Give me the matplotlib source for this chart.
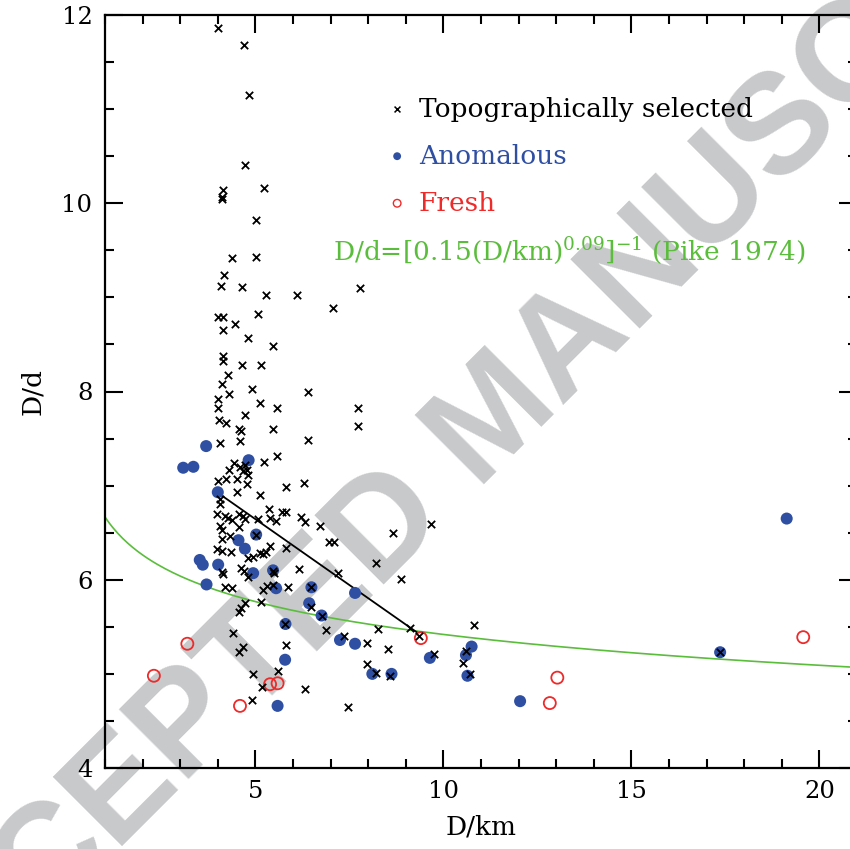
import numpy as np
import matplotlib
matplotlib.use("Agg")
import matplotlib.pyplot as plt
from matplotlib.ticker import MultipleLocator

plt.rcParams['font.family'] = ['DejaVu Serif']
plt.rcParams['mathtext.fontset'] = 'dejavuserif'

# topographically selected craters (D in km, D/d)
topo_D = [4.01, 4.71, 4.83, 4.72, 4.13, 4.12, 4.12, 5.22, 5.02, 4.37, 5.02, 4.16, 4.08, 4.64, 7.78, 5.27, 6.10,
          7.07, 4.01, 4.13, 5.08, 4.47, 4.14, 4.79, 5.47, 4.14, 4.14, 4.64, 5.15, 4.27, 4.12, 4.29, 4.92, 6.40,
          4.01, 5.13, 5.57, 7.73, 4.01, 4.72, 4.02, 4.22, 7.73, 4.56, 4.62, 5.48, 4.07, 4.60, 6.40,
          5.58, 5.24, 4.43, 4.31, 4.59, 4.66, 4.72, 4.81, 4.77, 4.00, 4.21, 4.50, 4.78, 5.82, 6.29, 4.50, 5.13,
          4.06, 4.06, 3.99, 4.19, 4.28, 4.37, 4.57, 4.66, 4.72, 5.08, 5.37, 5.39, 5.70, 5.81, 5.56, 6.21, 6.31,
          6.73, 4.06, 4.10, 4.57, 4.10, 4.32, 5.02, 3.99, 4.10, 4.34, 5.12, 5.28, 5.39, 5.81, 6.96, 7.10, 4.79,
          4.94, 5.21, 4.10, 4.15, 4.63, 4.70, 4.81, 5.47, 5.50, 6.17, 7.20,
          4.19, 4.37, 5.21, 5.30, 5.48, 5.87, 6.49, 4.72, 4.63, 4.57, 5.14, 6.49, 6.76, 6.89, 5.80, 7.36, 4.41,
          4.68, 4.57, 5.81, 4.94, 5.61, 5.18, 6.32, 4.90, 7.47,
          9.67, 8.67, 8.20, 8.87, 8.27, 9.12, 9.35, 10.82, 7.96, 8.52, 7.96, 8.22, 8.58, 9.76, 10.59, 10.53,
          10.71, 17.36]
topo_Dd = [11.86, 11.68, 11.15, 10.41, 10.14, 10.07, 10.04, 10.16, 9.82, 9.42, 9.43, 9.24, 9.12, 9.11, 9.10, 9.02, 9.03,
           8.89, 8.79, 8.79, 8.82, 8.72, 8.65, 8.57, 8.48, 8.38, 8.32, 8.28, 8.28, 8.18, 8.08, 7.97, 8.03, 8.00,
           7.92, 7.88, 7.82, 7.82, 7.82, 7.75, 7.70, 7.67, 7.63, 7.60, 7.58, 7.60, 7.45, 7.47, 7.49,
           7.31, 7.25, 7.24, 7.17, 7.20, 7.16, 7.22, 7.11, 7.17, 7.05, 7.07, 7.07, 7.02, 6.99, 7.03, 6.93, 6.90,
           6.86, 6.81, 6.70, 6.68, 6.66, 6.64, 6.70, 6.68, 6.65, 6.65, 6.75, 6.66, 6.72, 6.72, 6.62, 6.67, 6.61,
           6.57, 6.57, 6.53, 6.56, 6.43, 6.46, 6.48, 6.33, 6.31, 6.30, 6.28, 6.29, 6.36, 6.34, 6.40, 6.40, 6.23,
           6.24, 6.27, 6.08, 6.06, 6.13, 6.09, 6.03, 6.09, 6.07, 6.11, 6.07,
           5.92, 5.91, 5.89, 5.93, 5.94, 5.92, 5.92, 5.75, 5.70, 5.66, 5.76, 5.71, 5.62, 5.47, 5.53, 5.40, 5.43,
           5.29, 5.23, 5.31, 5.00, 5.03, 4.86, 4.84, 4.72, 4.65,
           6.59, 6.50, 6.18, 6.01, 5.48, 5.49, 5.40, 5.52, 5.33, 5.26, 5.10, 5.01, 4.98, 5.21, 5.24, 5.12,
           5.00, 5.23]

# anomalous craters
anom_D = [3.69, 3.08, 3.35, 4.82, 4.00, 4.55, 5.02, 4.72, 3.52, 3.60, 4.01, 4.94, 5.47, 3.70, 5.55, 6.49, 7.65,
          6.43, 6.76, 5.80, 7.25, 7.65, 5.79, 5.59, 8.11, 8.62, 9.64, 10.75, 10.60, 10.64, 12.04, 17.36, 19.13]
anom_Dd = [7.42, 7.19, 7.20, 7.27, 6.93, 6.42, 6.48, 6.33, 6.21, 6.16, 6.16, 6.07, 6.10, 5.95, 5.91, 5.92, 5.86,
           5.75, 5.62, 5.53, 5.36, 5.32, 5.15, 4.66, 5.00, 5.00, 5.17, 5.29, 5.20, 4.98, 4.71, 5.23, 6.65]

# fresh craters
fresh_D = [2.30, 3.19, 4.59, 5.39, 5.59, 9.40, 13.03, 12.83, 19.57]
fresh_Dd = [4.98, 5.32, 4.66, 4.89, 4.90, 5.38, 4.96, 4.69, 5.39]

# trend segment
trend_D = [4.05, 9.30]
trend_Dd = [6.91, 5.44]

# Pike (1974): D/d = [0.15 (D/km)^0.09]^-1
pike_a, pike_b = 0.15, 0.09

blue = '#2f4fa3'
red = '#ee2a2a'
green = '#5bbd3c'

fig = plt.figure(figsize=(8.5, 8.49), dpi=100)
ax = fig.add_axes([105/850, 81/849, 752/850, 753/849])
ax.set_facecolor('none')

# watermark of the source page
fig.text(496/850, 1 - 420/849, 'ACCEPTED MANUSCRIPT', rotation=45, rotation_mode='anchor',
         ha='center', va='center', fontsize=102, fontweight='bold', family='Liberation Sans',
         color='#c8c9cb', zorder=-1)

D = np.linspace(1, 21, 300)
ax.plot(D, 1 / (pike_a * D**pike_b), color=green, lw=1.2, zorder=2)
ax.plot(trend_D, trend_Dd, color='black', lw=1.3, zorder=2)
ax.scatter(anom_D, anom_Dd, s=75, color=blue, edgecolors='none', zorder=3)
ax.scatter(fresh_D, fresh_Dd, s=75, facecolors='none', edgecolors=red, linewidths=1.3, zorder=3)
ax.scatter(topo_D, topo_Dd, s=28, marker='x', color='black', linewidths=1.3, zorder=4)

ax.set_xlim(1, 21)
ax.set_ylim(4, 12)
ax.xaxis.set_major_locator(MultipleLocator(5))
ax.xaxis.set_minor_locator(MultipleLocator(1))
ax.yaxis.set_major_locator(MultipleLocator(2))
ax.yaxis.set_minor_locator(MultipleLocator(0.5))
ax.tick_params(which='both', direction='in', top=True, right=True, labelsize=17.5, width=1.5)
ax.tick_params(which='major', length=13, pad=9)
ax.tick_params(which='minor', length=6.5)
for s in ax.spines.values():
    s.set_linewidth(1.6)

ax.set_xlabel('D/km', fontsize=19, labelpad=8)
ax.set_ylabel('D/d', fontsize=19, labelpad=12)

# legend written as in the original
fs = 19
ax.scatter([8.77], [11.0], s=18, marker='x', color='black', linewidths=1.1)
ax.text(9.35, 11.0, 'Topographically selected', fontsize=fs, va='center', color='black')
ax.scatter([8.77], [10.5], s=32, color=blue, edgecolors='none')
ax.text(9.35, 10.5, 'Anomalous', fontsize=fs, va='center', color=blue)
ax.scatter([8.77], [10.0], s=30, facecolors='none', edgecolors=red, linewidths=1.0)
ax.text(9.35, 10.0, 'Fresh', fontsize=fs, va='center', color=red)
ax.text(19.62, 9.5, r'D/d=[0.15(D/km)$^{0.09}$]$^{-1}$ (Pike 1974)', fontsize=fs, va='center',
        ha='right', color=green)

fig.savefig('out.png', dpi=100)
